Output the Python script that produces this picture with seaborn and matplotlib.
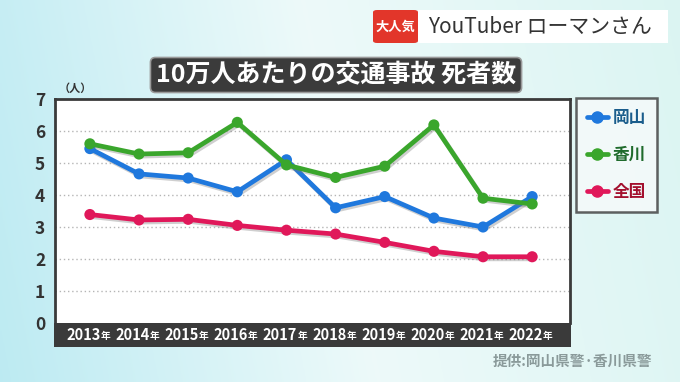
import numpy as np
import pandas as pd
import matplotlib
matplotlib.use("Agg")
import matplotlib.pyplot as plt
import matplotlib.patheffects as pe
import matplotlib.transforms as mtransforms
from matplotlib.lines import Line2D
from matplotlib.patches import Rectangle, FancyBboxPatch
import seaborn as sns

# data (deaths per 100k people)
years = [2013, 2014, 2015, 2016, 2017, 2018, 2019, 2020, 2021, 2022]
okayama = [5.45, 4.66, 4.53, 4.10, 5.10, 3.60, 3.95, 3.28, 3.00, 3.95]
kagawa = [5.60, 5.28, 5.32, 6.27, 4.94, 4.55, 4.90, 6.19, 3.90, 3.72]
national = [3.39, 3.22, 3.24, 3.05, 2.90, 2.78, 2.52, 2.24, 2.07, 2.07]
series_names = ["岡山", "香川", "全国"]
yticks = [0, 1, 2, 3, 4, 5, 6, 7]

line_colors = {"岡山": "#1f78dd", "香川": "#3aa62c", "全国": "#e0185a"}
text_colors = {"岡山": "#1a5d8c", "香川": "#1f6b2c", "全国": "#a3102e"}

sns.set_theme(style="white")
plt.rcParams["font.family"] = ["Noto Sans CJK JP", "DejaVu Sans"]

W, H = 680, 382


def fx(px):
    return px / W


def fy(py):
    return 1 - py / H


fig = plt.figure(figsize=(6.8, 3.82), dpi=100)

# background gradient
bg = fig.add_axes([0, 0, 1, 1], zorder=-10)
gx = np.linspace(0, 1, 256)
gy = np.linspace(0, 1, 128)
GX, GY = np.meshgrid(gx, gy)
c_left = np.array([0.74, 0.92, 0.95])
c_mid = np.array([0.93, 0.98, 0.98])
c_right = np.array([0.86, 0.96, 0.95])
t = np.clip(GX * 0.9 + (1 - GY) * 0.1, 0, 1)[..., None]
img = np.where(t < 0.5, c_left * (1 - 2 * t) + c_mid * (2 * t), c_mid * (2 - 2 * t) + c_right * (2 * t - 1))
bg.imshow(img, aspect="auto", extent=[0, 1, 0, 1])
bg.axis("off")

# main plot
ax = fig.add_axes([fx(55), fy(323), fx(570 - 55), (323 - 99) / H])
ax.set_facecolor("white")

df = pd.DataFrame({
    "idx": list(range(len(years))) * 3,
    "value": national + okayama + kagawa,
    "area": ["全国"] * len(years) + ["岡山"] * len(years) + ["香川"] * len(years),
})
sns.lineplot(data=df, x="idx", y="value", hue="area",
             hue_order=["全国", "岡山", "香川"], palette=line_colors,
             marker="o", markersize=8, markeredgewidth=0, linewidth=3.4,
             legend=False, ax=ax)
for ln in ax.lines:
    ln.set_path_effects([pe.SimpleLineShadow(offset=(1.2, -1.5), shadow_color="#777777", alpha=0.35),
                         pe.Normal()])
    ln.set_zorder(3)

ax.set_xlim(-0.71, 9.77)
ax.set_ylim(0, 7)
ax.set_yticks(yticks)
ax.set_yticklabels([str(v) for v in yticks], fontsize=12.5, fontweight="bold", color="#333333")
ax.tick_params(axis="y", length=0, pad=7)
ax.set_xticks([])
ax.set_xlabel("")
ax.set_ylabel("")
for v in yticks[1:-1]:
    ax.axhline(v, color="#b5b5b5", linestyle=(0, (1, 2)), linewidth=1, zorder=1)
for side in ["left", "top", "right"]:
    ax.spines[side].set_color("#3a3a3a")
    ax.spines[side].set_linewidth(2)
ax.spines["bottom"].set_visible(False)

# unit label
fig.text(fx(59), fy(88), "（人）", fontsize=8, fontweight="bold", color="#333333", ha="left", va="center")

# dark band with years
band = Rectangle((fx(54), fy(347)), fx(571 - 54), (347 - 323) / H,
                 transform=fig.transFigure, facecolor="#3a3a3a", edgecolor="none", zorder=2)
fig.patches.append(band)
trans = mtransforms.blended_transform_factory(ax.transData, fig.transFigure)
for i, yr in enumerate(years):
    fig.text(i + 0.22, fy(335), str(yr), transform=trans, ha="right", va="center",
             fontsize=10.5, fontweight="bold", color="white", zorder=5)
    fig.text(i + 0.22, fy(336), "年", transform=trans, ha="left", va="center",
             fontsize=7, fontweight="bold", color="white", zorder=5)

# legend
handles = [Line2D([0], [0], color=line_colors[n], lw=3.4, marker="o", markersize=8) for n in series_names]
leg = fig.legend(handles, series_names, loc="upper left",
                 bbox_to_anchor=(fx(576), fy(98)), bbox_transform=fig.transFigure,
                 frameon=True, handlelength=1.25, handletextpad=0.3, borderaxespad=0,
                 labelspacing=1.15, borderpad=0.65, fancybox=False,
                 prop={"weight": "bold", "size": 12})
leg.get_frame().set_edgecolor("#3a3a3a")
leg.get_frame().set_linewidth(1.8)
leg.get_frame().set_facecolor("#f7fbfb")
for txt, n in zip(leg.get_texts(), series_names):
    txt.set_color(text_colors[n])

# title box
fig.text(fx(336), fy(75), "10万人あたりの交通事故 死者数", fontsize=18, fontweight="bold",
         color="white", ha="center", va="center",
         bbox=dict(boxstyle="round,pad=0.22,rounding_size=0.2", facecolor="#3b3b3b",
                   edgecolor="#9a9a9a", linewidth=1.2))

# top-right badge
fig.patches.append(FancyBboxPatch((fx(418), fy(43)), fx(668 - 418), (43 - 10) / H,
                                  boxstyle="square,pad=0", transform=fig.transFigure,
                                  facecolor="white", edgecolor="none"))
fig.patches.append(FancyBboxPatch((fx(373), fy(43)), fx(418 - 373), (43 - 10) / H,
                                  boxstyle="round,pad=0,rounding_size=0.006", transform=fig.transFigure,
                                  facecolor="#e2362a", edgecolor="none"))
fig.text(fx(395.5), fy(27), "大人気", fontsize=9.5, fontweight="bold", color="white", ha="center", va="center")
fig.text(fx(428), fy(27), "YouTuber ローマンさん", fontsize=15, color="#333333", ha="left", va="center")

# source
fig.text(fx(652), fy(361), "提供:岡山県警·香川県警", fontsize=10.5, fontweight="bold",
         color="#8a9a9a", ha="right", va="center")

fig.savefig("out.png", dpi=100)
